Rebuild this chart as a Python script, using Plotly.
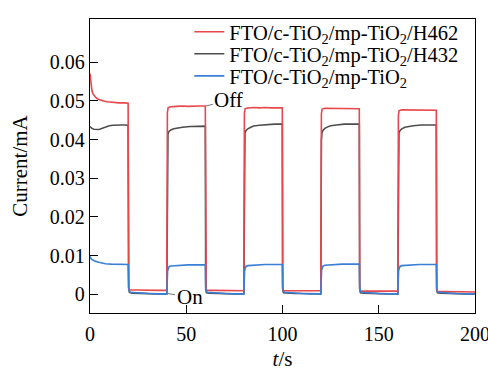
import plotly.graph_objects as go

# Transient photocurrent under chopped illumination (20 s on / 20 s off)

# FTO/c-TiO2/mp-TiO2/H462
t_h462 = [0, 0.3, 0.6, 1, 1.5, 2.2, 3, 4, 5.5, 7, 9, 12, 15, 18, 19.8,
          20.1, 20.4, 25, 30, 35, 39.9,
          40.2, 40.6, 42, 45, 48, 51, 54, 57, 59.9,
          60.1, 60.4, 65, 70, 75, 79.9,
          80.2, 80.6, 82, 85, 88, 91, 94, 97, 99.9,
          100.1, 100.4, 105, 110, 115, 119.9,
          120.2, 120.6, 122, 125, 128, 131, 134, 137, 139.9,
          140.1, 140.4, 145, 150, 155, 159.9,
          160.2, 160.6, 162, 165, 168, 171, 174, 177, 179.9,
          180.1, 180.4, 185, 190, 195, 200]
i_h462 = [0.0571, 0.0552, 0.0538, 0.0527, 0.0519, 0.0513, 0.0509, 0.0505, 0.0502, 0.0500, 0.0498, 0.0496, 0.0495, 0.0495, 0.0494,
          0.0015, 0.0011, 0.0011, 0.0010, 0.0010, 0.0010,
          0.0470, 0.0483, 0.0485, 0.0486, 0.0487, 0.0486, 0.0487, 0.0487, 0.0487,
          0.0015, 0.0010, 0.0010, 0.0010, 0.0009, 0.0009,
          0.0468, 0.0480, 0.0482, 0.0483, 0.0482, 0.0483, 0.0482, 0.0482, 0.0482,
          0.0014, 0.0009, 0.0009, 0.0009, 0.0009, 0.0009,
          0.0467, 0.0479, 0.0481, 0.0481, 0.0480, 0.0481, 0.0480, 0.0480, 0.0480,
          0.0013, 0.0008, 0.0008, 0.0008, 0.0008, 0.0008,
          0.0463, 0.0475, 0.0477, 0.0477, 0.0476, 0.0477, 0.0476, 0.0476, 0.0476,
          0.0012, 0.0007, 0.0007, 0.0007, 0.0006, 0.0006]

# FTO/c-TiO2/mp-TiO2/H432
t_h432 = [0, 0.5, 1, 2, 3, 4, 5, 6, 8, 10, 12, 14, 16, 18, 19.8,
          20.1, 20.5, 22, 26, 30, 35, 39.9,
          40.2, 40.5, 41, 42, 43.5, 45, 48, 52, 56, 59.9,
          60.1, 60.5, 62, 66, 70, 75, 79.9,
          80.2, 80.5, 81, 82, 83.5, 85, 88, 92, 96, 99.9,
          100.1, 100.5, 102, 106, 110, 115, 119.9,
          120.2, 120.5, 121, 122, 123.5, 125, 128, 132, 136, 139.9,
          140.1, 140.5, 142, 146, 150, 155, 159.9,
          160.2, 160.5, 161, 162, 163.5, 165, 168, 172, 176, 179.9,
          180.1, 180.5, 182, 186, 190, 195, 200]
i_h432 = [0.0434, 0.0431, 0.0429, 0.0427, 0.0426, 0.0426, 0.0427, 0.0429, 0.0433, 0.0436, 0.0437, 0.0438, 0.0438, 0.0438, 0.0437,
          0.0015, 0.0005, 0.0003, 0.0002, 0.0002, 0.0001, 0.0001,
          0.0395, 0.0415, 0.0421, 0.0425, 0.0428, 0.0430, 0.0432, 0.0434, 0.0435, 0.0435,
          0.0014, 0.0004, 0.0003, 0.0002, 0.0002, 0.0001, 0.0001,
          0.0397, 0.0417, 0.0423, 0.0428, 0.0432, 0.0435, 0.0437, 0.0439, 0.0440, 0.0440,
          0.0014, 0.0004, 0.0003, 0.0002, 0.0002, 0.0001, 0.0001,
          0.0397, 0.0418, 0.0424, 0.0429, 0.0433, 0.0436, 0.0438, 0.0440, 0.0440, 0.0440,
          0.0014, 0.0004, 0.0003, 0.0002, 0.0002, 0.0001, 0.0001,
          0.0396, 0.0417, 0.0423, 0.0428, 0.0432, 0.0434, 0.0436, 0.0438, 0.0438, 0.0438,
          0.0013, 0.0004, 0.0003, 0.0002, 0.0002, 0.0001, 0.0001]

# FTO/c-TiO2/mp-TiO2 (bare scaffold)
t_tio2 = [0, 0.3, 0.7, 1.2, 2, 3, 4.5, 6, 8, 11, 14, 17, 19.8,
          20.1, 20.4, 21, 23, 26, 30, 35, 39.9,
          40.3, 40.6, 41, 42, 44, 47, 51, 55, 59.9,
          60.1, 60.4, 61, 63, 66, 70, 75, 79.9,
          80.3, 80.6, 81, 82, 84, 87, 91, 95, 99.9,
          100.1, 100.4, 101, 103, 106, 110, 115, 119.9,
          120.3, 120.6, 121, 122, 124, 127, 131, 135, 139.9,
          140.1, 140.4, 141, 143, 146, 150, 155, 159.9,
          160.3, 160.6, 161, 162, 164, 167, 171, 175, 179.9,
          180.1, 180.4, 181, 183, 186, 190, 195, 200]
i_tio2 = [0.0098, 0.0094, 0.0091, 0.0089, 0.0087, 0.0085, 0.0083, 0.0081, 0.0079, 0.0078, 0.0078, 0.0077, 0.0077,
          0.0020, 0.0008, 0.0005, 0.0004, 0.0003, 0.0002, 0.0001, 0.0001,
          0.0060, 0.0068, 0.0071, 0.0073, 0.0074, 0.0075, 0.0076, 0.0076, 0.0076,
          0.0020, 0.0008, 0.0005, 0.0004, 0.0003, 0.0002, 0.0001, 0.0001,
          0.0061, 0.0069, 0.0072, 0.0074, 0.0075, 0.0076, 0.0077, 0.0077, 0.0077,
          0.0020, 0.0008, 0.0005, 0.0004, 0.0003, 0.0002, 0.0001, 0.0001,
          0.0062, 0.0070, 0.0073, 0.0075, 0.0076, 0.0077, 0.0078, 0.0078, 0.0078,
          0.0020, 0.0008, 0.0005, 0.0004, 0.0003, 0.0002, 0.0001, 0.0001,
          0.0061, 0.0069, 0.0072, 0.0074, 0.0075, 0.0076, 0.0077, 0.0077, 0.0077,
          0.0020, 0.0008, 0.0005, 0.0004, 0.0003, 0.0002, 0.0001, 0.0001]

series_names = ["FTO/c-TiO<sub>2</sub>/mp-TiO<sub>2</sub>/H462",
                "FTO/c-TiO<sub>2</sub>/mp-TiO<sub>2</sub>/H432",
                "FTO/c-TiO<sub>2</sub>/mp-TiO<sub>2</sub>"]
series_colors = ["#e8474b", "#4d4d4d", "#3a7fd6"]

x_ticks = [0, 50, 100, 150, 200]
y_ticks = [0, 0.01, 0.02, 0.03, 0.04, 0.05, 0.06]

FONT = "Liberation Serif, Times New Roman, serif"

fig = go.Figure()
data = [(t_h462, i_h462), (t_h432, i_h432), (t_tio2, i_tio2)]
legend_ids = ["legend", "legend2", "legend3"]
# draw the bare scaffold last so it sits on top in the dark state
for k in [1, 0, 2]:
    t, cur = data[k]
    fig.add_trace(go.Scatter(
        x=t, y=cur, mode="lines", name=series_names[k],
        line=dict(color=series_colors[k], width=1.6),
        legend=legend_ids[k],
    ))

axis_common = dict(
    showline=True, linecolor="black", linewidth=1.3, mirror=True,
    ticks="inside", ticklen=8, tickwidth=1.2, tickcolor="black",
    showgrid=False, zeroline=False, automargin=False,
    tickfont=dict(family=FONT, size=20, color="black"),
)

fig.update_xaxes(range=[0, 200], tickvals=x_ticks,
                 ticklabeloverflow="allow", ticklabelstandoff=3,
                 title=dict(text="<i>t</i>/s", font=dict(family=FONT, size=21, color="black"), standoff=9),
                 **axis_common)
fig.update_yaxes(range=[-0.00485, 0.0712], tickvals=y_ticks,
                 ticktext=[f"{v:g}" for v in y_ticks],
                 title=dict(text="Current/mA", font=dict(family=FONT, size=21, color="black"), standoff=16),
                 **axis_common)

legend_style = dict(
    font=dict(family=FONT, size=20.5, color="black"),
    bgcolor="rgba(0,0,0,0)", borderwidth=0,
    xanchor="left", yanchor="middle", x=0.258,
)
fig.update_layout(
    width=488, height=371,
    margin=dict(l=90, r=13, t=15, b=58),
    paper_bgcolor="white", plot_bgcolor="white",
    showlegend=True,
    legend=dict(y=0.956, **legend_style),
    legend2=dict(y=0.881, **legend_style),
    legend3=dict(y=0.806, **legend_style),
)

# Light-switching labels with short leader lines
fig.add_annotation(x=60.3, y=0.0487, xref="x", yref="y",
                   ax=72.2, ay=0.0502, axref="x", ayref="y",
                   text="Off", showarrow=True, arrowhead=0, arrowwidth=0.8,
                   arrowcolor="#555555",
                   font=dict(family=FONT, size=21, color="black"))
fig.add_annotation(x=40.5, y=0.0002, xref="x", yref="y",
                   ax=51.7, ay=-0.0008, axref="x", ayref="y",
                   text="On", showarrow=True, arrowhead=0, arrowwidth=0.8,
                   arrowcolor="#555555",
                   font=dict(family=FONT, size=21, color="black"))

fig.write_html("out.html")
